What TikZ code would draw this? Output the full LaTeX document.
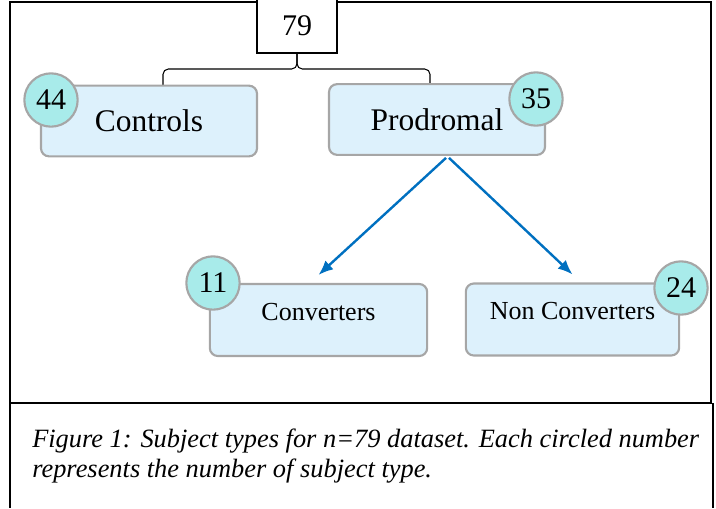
\documentclass[tikz,border=0pt]{standalone}
\usepackage{fontspec}
\setmainfont{Liberation Serif}
\usetikzlibrary{arrows.meta}
\definecolor{boxfill}{HTML}{DDF1FC}
\definecolor{boxline}{HTML}{A6A6A6}
\definecolor{dotfill}{HTML}{A8EBEA}
\definecolor{arrowblue}{HTML}{0070C0}
\begin{document}
\begin{tikzpicture}[x=0.75pt,y=-0.75pt,
  group/.style={draw=boxline,fill=boxfill,line width=1.6pt,rounded corners=6pt,
    minimum width=162pt,minimum height=53pt,font=\fontsize{23.6}{28}\selectfont},
  subgroup/.style={group,minimum width=163pt,minimum height=54pt,
    font=\fontsize{19.5}{23}\selectfont,text height=13pt,text depth=13pt},
  count/.style={circle,draw=boxline,fill=dotfill,line width=1.6pt,minimum size=40pt,
    inner sep=0pt,font=\fontsize{22.5}{26}\selectfont},
  link/.style={draw=arrowblue,line width=1.8pt,-{Latex[length=11pt,width=9pt]}}]
\useasboundingbox (0,0) rectangle (716,508);
% frame and caption
\draw[line width=2.2pt](10,2) rectangle (711,403);
\draw[line width=1.2pt](10,403)--(10,508) (713,403)--(713,508);
\node[anchor=base west,align=left,inner sep=0pt,font=\fontsize{19.8}{22.5}\selectfont\itshape](caption) at (32,477)
  {Figure 1: Subject types for n=79 dataset. Each circled number\\represents the number of subject type.};
% total
\node[draw,fill=white,line width=0.9pt,minimum width=60pt,minimum height=40.5pt,
  font=\fontsize{22.5}{26}\selectfont](total) at (297,26){79};
\coordinate (lend) at (163,85);
\coordinate (rend) at (430,85);
\coordinate (fork) at (297,69);
\draw[line width=0.8pt,rounded corners=4pt](lend) |- (fork)--(total.south);
\draw[line width=0.8pt,rounded corners=4pt](rend) |- (fork)--(total.south);
% groups
\node[group](controls) at (149,121){Controls};
\node[group](prodromal) at (437,119.5){Prodromal};
\node[subgroup](converters) at (318.5,320){Converters};
\node[subgroup,minimum width=160pt](nonconv) at (572.5,319.5){Non Converters};
% counts
\node[count](n44) at (51,100){44};
\node[count](n35) at (536,99){35};
\node[count](n11) at (213,283){11};
\node[count](n24) at (681,288){24};
% arrows
\draw[link]([xshift=6.75pt,yshift=-1.5pt]prodromal.south)--([yshift=6pt]converters.north);
\draw[link]([xshift=9pt,yshift=-1.5pt]prodromal.south)--([yshift=6pt]nonconv.north);
\end{tikzpicture}
\end{document}
